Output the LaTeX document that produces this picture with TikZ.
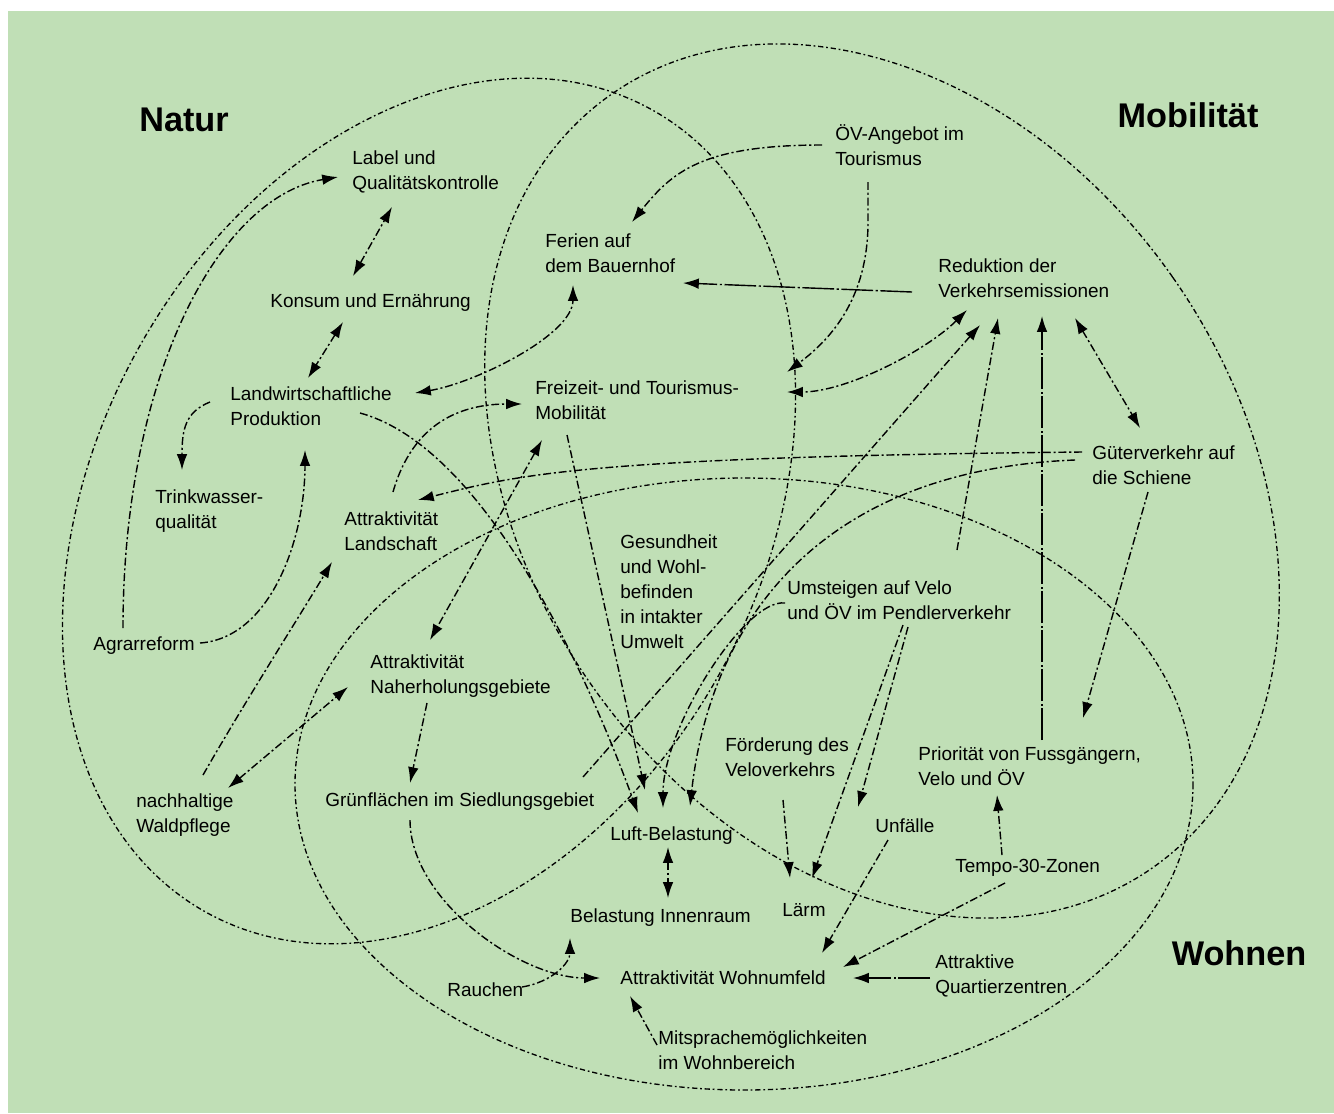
\documentclass[tikz,border=0pt]{standalone}
\usepackage{fontspec}
\setmainfont{Liberation Sans}
\usetikzlibrary{arrows.meta}
\definecolor{bggreen}{RGB}{192,223,182}
\begin{document}
\begin{tikzpicture}[x=0.02cm,y=-0.02cm,
  >={Latex[length=9pt,width=6pt]},
  lbl/.style={anchor=west, inner sep=0pt, align=left, font=\fontsize{10.8}{14.2}\selectfont},
  ttl/.style={inner sep=0pt, font=\fontsize{19.5}{23}\selectfont\bfseries},
  ell/.style={line width=0.75pt, dash pattern=on 3pt off 1.6pt on 1pt off 1.6pt},
  conn/.style={line width=0.8pt, dash pattern=on 4.5pt off 1.6pt on 1.2pt off 1.6pt},
  solidish/.style={line width=0.8pt, dash pattern=on 18pt off 1.5pt on 1.2pt off 1.5pt}]
\useasboundingbox (0,0) rectangle (1334,1113);
\fill[white] (0,0) rectangle (1334,1113);
\fill[bggreen] (8,11) rectangle (1334,1113);

% theme ellipses
\draw[ell, rotate around={-29:(429,511)}] (429,511) ellipse [x radius=333, y radius=459];
\draw[ell, rotate around={35:(882,481)}] (882,481) ellipse [x radius=355, y radius=472];
\draw[ell] (744,784) ellipse [x radius=449, y radius=306];

% titles
\node[ttl] (tnat) at (184,120) {Natur};
\node[ttl] (tmob) at (1188,115) {Mobilität};
\node[ttl] (twoh) at (1239,953) {Wohnen};

% text nodes
\node[lbl] (lab) at (352,172) {Label und\\Qualitätskontrolle};
\node[lbl] (kon) at (270,303) {Konsum und Ernährung};
\node[lbl] (lwp) at (230,406) {Landwirtschaftliche\\Produktion};
\node[lbl] (trk) at (155,511) {Trinkwasser-\\qualität};
\node[lbl] (agr) at (93,646) {Agrarreform};
\node[lbl] (atl) at (344,531) {Attraktivität\\Landschaft};
\node[lbl] (frz) at (535,400) {Freizeit- und Tourismus-\\Mobilität};
\node[lbl] (fer) at (545,253) {Ferien auf\\dem Bauernhof};
\node[lbl] (oev) at (835,145) {ÖV-Angebot im\\Tourismus};
\node[lbl] (red) at (938,278) {Reduktion der\\Verkehrsemissionen};
\node[lbl] (gut) at (1092,465) {Güterverkehr auf\\die Schiene};
\node[lbl] (ges) at (620,592) {Gesundheit\\und Wohl-\\befinden\\in intakter\\Umwelt};
\node[lbl] (ums) at (787,600) {Umsteigen auf Velo\\und ÖV im Pendlerverkehr};
\node[lbl] (nah) at (370,676) {Attraktivität\\Naherholungsgebiete};
\node[lbl] (wal) at (136,815) {nachhaltige\\Waldpflege};
\node[lbl] (gru) at (325,802) {Grünflächen im Siedlungsgebiet};
\node[lbl] (luf) at (610,836) {Luft-Belastung};
\node[lbl] (bel) at (570,918) {Belastung Innenraum};
\node[lbl] (foe) at (725,757) {Förderung des\\Veloverkehrs};
\node[lbl] (lar) at (782,910) {Lärm};
\node[lbl] (unf) at (875,826) {Unfälle};
\node[lbl] (pri) at (918,766) {Priorität von Fussgängern,\\Velo und ÖV};
\node[lbl] (tem) at (955,868) {Tempo-30-Zonen};
\node[lbl] (quz) at (935,976) {Attraktive\\Quartierzentren};
\node[lbl] (woh) at (620,978) {Attraktivität Wohnumfeld};
\node[lbl] (rau) at (447,990) {Rauchen};
\node[lbl] (mit) at (658,1050) {Mitsprachemöglichkeiten\\im Wohnbereich};

% connectors
\draw[conn,<->] ([shift={(83,-27)}]kon.west) -- ([shift={(40,35)}]lab.west);
\draw[conn,<->] ([shift={(73,19)}]kon.west) -- ([shift={(78,-28)}]lwp.west);
\draw[conn,->] ([shift={(30,-18)}]agr.west) .. controls +(0,-250) and +(-120,20) .. ([shift={(-14,5)}]lab.west);
\draw[conn,->] ([shift={(107,-3)}]agr.west) .. controls +(70,-5) and +(0,90) .. ([shift={(75,44)}]lwp.west);
\draw[conn,->] ([shift={(-20,-4)}]lwp.west) .. controls +(-25,10) and +(0,-40) .. ([shift={(27,-41)}]trk.west);
\draw[conn,<->] ([shift={(185,-13)}]lwp.west) .. controls +(60,-10) and +(0,50) .. ([shift={(28,32)}]fer.west);
\draw[conn,->] ([shift={(-13,0)}]oev.west) .. controls +(-120,0) and +(40,-50) .. ([shift={(87,-31)}]fer.west);
\draw[conn,->] ([shift={(33,37)}]oev.west) -- +(0,40) .. controls +(0,80) and +(40,-30) .. ([shift={(252,-28)}]frz.west);
\draw[solidish,->] ([shift={(-26,14)}]red.west) -- ([shift={(138,30)}]fer.west);
\draw[conn,<->] ([shift={(29,32)}]red.west) .. controls +(-40,40) and +(60,0) .. ([shift={(252,-8)}]frz.west);
\draw[conn,->] ([shift={(258,-25)}]gru.west) -- ([shift={(42,47)}]red.west);
\draw[conn,->] ([shift={(170,-50)}]ums.west) -- ([shift={(60,40)}]red.west);
\draw[solidish,->] ([shift={(124,-26)}]pri.west) -- ([shift={(104,38)}]red.west);
\draw[conn,<->] ([shift={(137,40)}]red.west) -- ([shift={(48,-37)}]gut.west);
\draw[conn,->] ([shift={(-10,-13)}]gut.west) .. controls +(-500,5) and +(100,-25) .. ([shift={(74,-31)}]atl.west);
\draw[conn,->] ([shift={(-17,-5)}]gut.west) .. controls +(-260,10) and +(20,-180) .. ([shift={(80,-30)}]luf.west);
\draw[conn,->] ([shift={(56,27)}]gut.west) -- ([shift={(165,-48)}]pri.west);
\draw[conn,->] ([shift={(49,-39)}]atl.west) .. controls +(20,-70) and +(-60,0) .. ([shift={(-13,4)}]frz.west);
\draw[conn,<->] ([shift={(7,40)}]frz.west) -- ([shift={(60,-36)}]nah.west);
\draw[conn,->] ([shift={(67,-40)}]wal.west) .. controls +(40,-70) and +(-30,50) .. ([shift={(-12,31)}]atl.west);
\draw[conn,<->] ([shift={(92,-27)}]wal.west) -- ([shift={(-22,11)}]nah.west);
\draw[conn,->] ([shift={(57,27)}]nah.west) -- ([shift={(85,-19)}]gru.west);
\draw[conn,->] ([shift={(85,18)}]gru.west) .. controls +(0,80) and +(-80,0) .. ([shift={(-20,0)}]woh.west);
\draw[conn,->] ([shift={(75,-3)}]rau.west) .. controls +(30,-5) and +(0,25) .. ([shift={(0,20)}]bel.west);
\draw[conn,<->] ([shift={(58,11)}]luf.west) -- ([shift={(98,-20)}]bel.west);
\draw[solidish,->] ([shift={(-5,2)}]quz.west) -- ([shift={(233,0)}]woh.west);
\draw[conn,->] ([shift={(-1,-5)}]mit.west) -- ([shift={(10,18)}]woh.west);
\draw[conn,->] ([shift={(13,14)}]unf.west) -- ([shift={(202,-25)}]woh.west);
\draw[conn,->] ([shift={(50,15)}]tem.west) -- ([shift={(223,-11)}]woh.west);
\draw[conn,->] ([shift={(47,-13)}]tem.west) -- ([shift={(79,29)}]pri.west);
\draw[conn,->] ([shift={(121,27)}]ums.west) -- ([shift={(-17,-19)}]unf.west);
\draw[conn,->] ([shift={(116,25)}]ums.west) -- ([shift={(30,-32)}]lar.west);
\draw[conn,->] ([shift={(58,43)}]foe.west) -- ([shift={(8,-32)}]lar.west);
\draw[conn,->] ([shift={(130,7)}]lwp.west) .. controls +(110,30) and +(-70,-190) .. ([shift={(28,-23)}]luf.west);
\draw[conn,->] ([shift={(32,35)}]frz.west) -- ([shift={(35,-46)}]luf.west);
\draw[conn,->] ([shift={(-2,3)}]ums.west) .. controls +(-40,-5) and +(0,-80) .. ([shift={(53,-28)}]luf.west);
\end{tikzpicture}
\end{document}
